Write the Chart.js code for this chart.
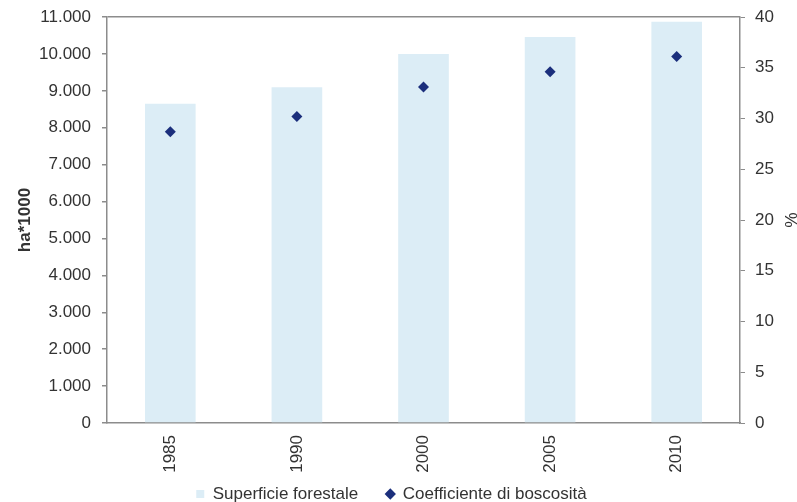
<!DOCTYPE html>
<html>
<head>
<meta charset="utf-8">
<script src="https://cdn.jsdelivr.net/npm/chart.js@4/dist/chart.umd.min.js"></script>
<style>
  html, body { margin: 0; padding: 0; background: #ffffff; }
  #wrap { width: 797px; height: 502px; }
</style>
</head>
<body>
<div id="wrap"><canvas id="c" width="797" height="502"></canvas></div>
<script>
// Forest area (thousand hectares) and forest cover coefficient (%)
const years = ['1985', '1990', '2000', '2005', '2010'];
const superficie = [8650, 9100, 10000, 10460, 10870];
const coefficiente = [28.7, 30.2, 33.1, 34.6, 36.1];

const axisGray = '#8c8c8c';
const textGray = '#333333';
const fontFamily = '"Liberation Sans", Arial, sans-serif';

const itFormat = v => Number(v).toLocaleString('it-IT');

// Lift the legend so it sits snug under the rotated year labels
const legendLift = {
  id: 'legendLift',
  afterLayout(chart) {
    const lg = chart.legend;
    if (lg) {
      lg.top -= 17.5; lg.bottom -= 17.5;
      lg.left -= 7; lg.right -= 7;
    }
  }
};

new Chart(document.getElementById('c'), {
  plugins: [legendLift],
  data: {
    labels: years,
    datasets: [
      {
        type: 'bar',
        label: 'Superficie forestale',
        data: superficie,
        backgroundColor: '#dcedf6',
        borderWidth: 0,
        barPercentage: 0.4,
        categoryPercentage: 1.0,
        yAxisID: 'y',
        order: 2
      },
      {
        type: 'line',
        label: 'Coefficiente di boscosità',
        data: coefficiente,
        showLine: false,
        pointStyle: 'rectRot',
        pointRadius: 5.5,
        backgroundColor: '#1b2f7c',
        borderColor: '#1b2f7c',
        borderWidth: 0,
        yAxisID: 'y1',
        order: 1
      }
    ]
  },
  options: {
    responsive: false,
    animation: false,
    layout: { padding: { top: 0, left: 0, right: 0, bottom: -28 } },
    plugins: {
      tooltip: { enabled: false },
      legend: {
        position: 'bottom',
        labels: {
          usePointStyle: true,
          boxWidth: 8,
          boxHeight: 8,
          padding: 28,
          color: textGray,
          font: { family: fontFamily, size: 17 },
          generateLabels(chart) {
            return chart.data.datasets.map((ds, i) => ({
              text: ds.label,
              fillStyle: ds.backgroundColor,
              strokeStyle: ds.backgroundColor,
              lineWidth: 0,
              pointStyle: i === 0 ? 'rect' : 'rectRot',
              fontColor: textGray,
              datasetIndex: i
            }));
          }
        }
      }
    },
    scales: {
      x: {
        offset: true,
        border: { color: axisGray, width: 1.5 },
        grid: { display: false, tickLength: 8 },
        ticks: {
          color: textGray,
          minRotation: 90,
          maxRotation: 90,
          padding: 4,
          font: { family: fontFamily, size: 17 }
        },
        afterFit(scale) { scale.height = 52; }
      },
      y: {
        position: 'left',
        min: 0,
        max: 11000,
        border: { color: axisGray, width: 1.5 },
        grid: {
          drawOnChartArea: true,
          color: ctx => (ctx.tick && ctx.tick.value === 11000) ? axisGray : 'rgba(0,0,0,0)',
          lineWidth: 1.5,
          tickLength: 5,
          tickColor: axisGray
        },
        ticks: {
          stepSize: 1000,
          color: textGray,
          padding: 11,
          font: { family: fontFamily, size: 17 },
          callback: v => itFormat(v)
        },
        title: {
          display: true,
          text: 'ha*1000',
          color: textGray,
          font: { family: fontFamily, size: 17, weight: 'bold' },
          padding: { top: 15, bottom: 0 }
        },
        afterFit(scale) { scale.width = 107; scale.paddingTop = 17; }
      },
      y1: {
        position: 'right',
        min: 0,
        max: 40,
        border: { color: axisGray, width: 1.5 },
        grid: {
          drawOnChartArea: false,
          tickLength: 5,
          tickColor: axisGray
        },
        ticks: {
          stepSize: 5,
          color: textGray,
          padding: 10,
          font: { family: fontFamily, size: 17 }
        },
        title: {
          display: true,
          text: '%',
          color: textGray,
          font: { family: fontFamily, size: 17 },
          padding: { top: -3, bottom: 0 }
        },
        afterFit(scale) { scale.width = 57; scale.paddingTop = 17; }
      }
    }
  }
});
</script>
</body>
</html>
